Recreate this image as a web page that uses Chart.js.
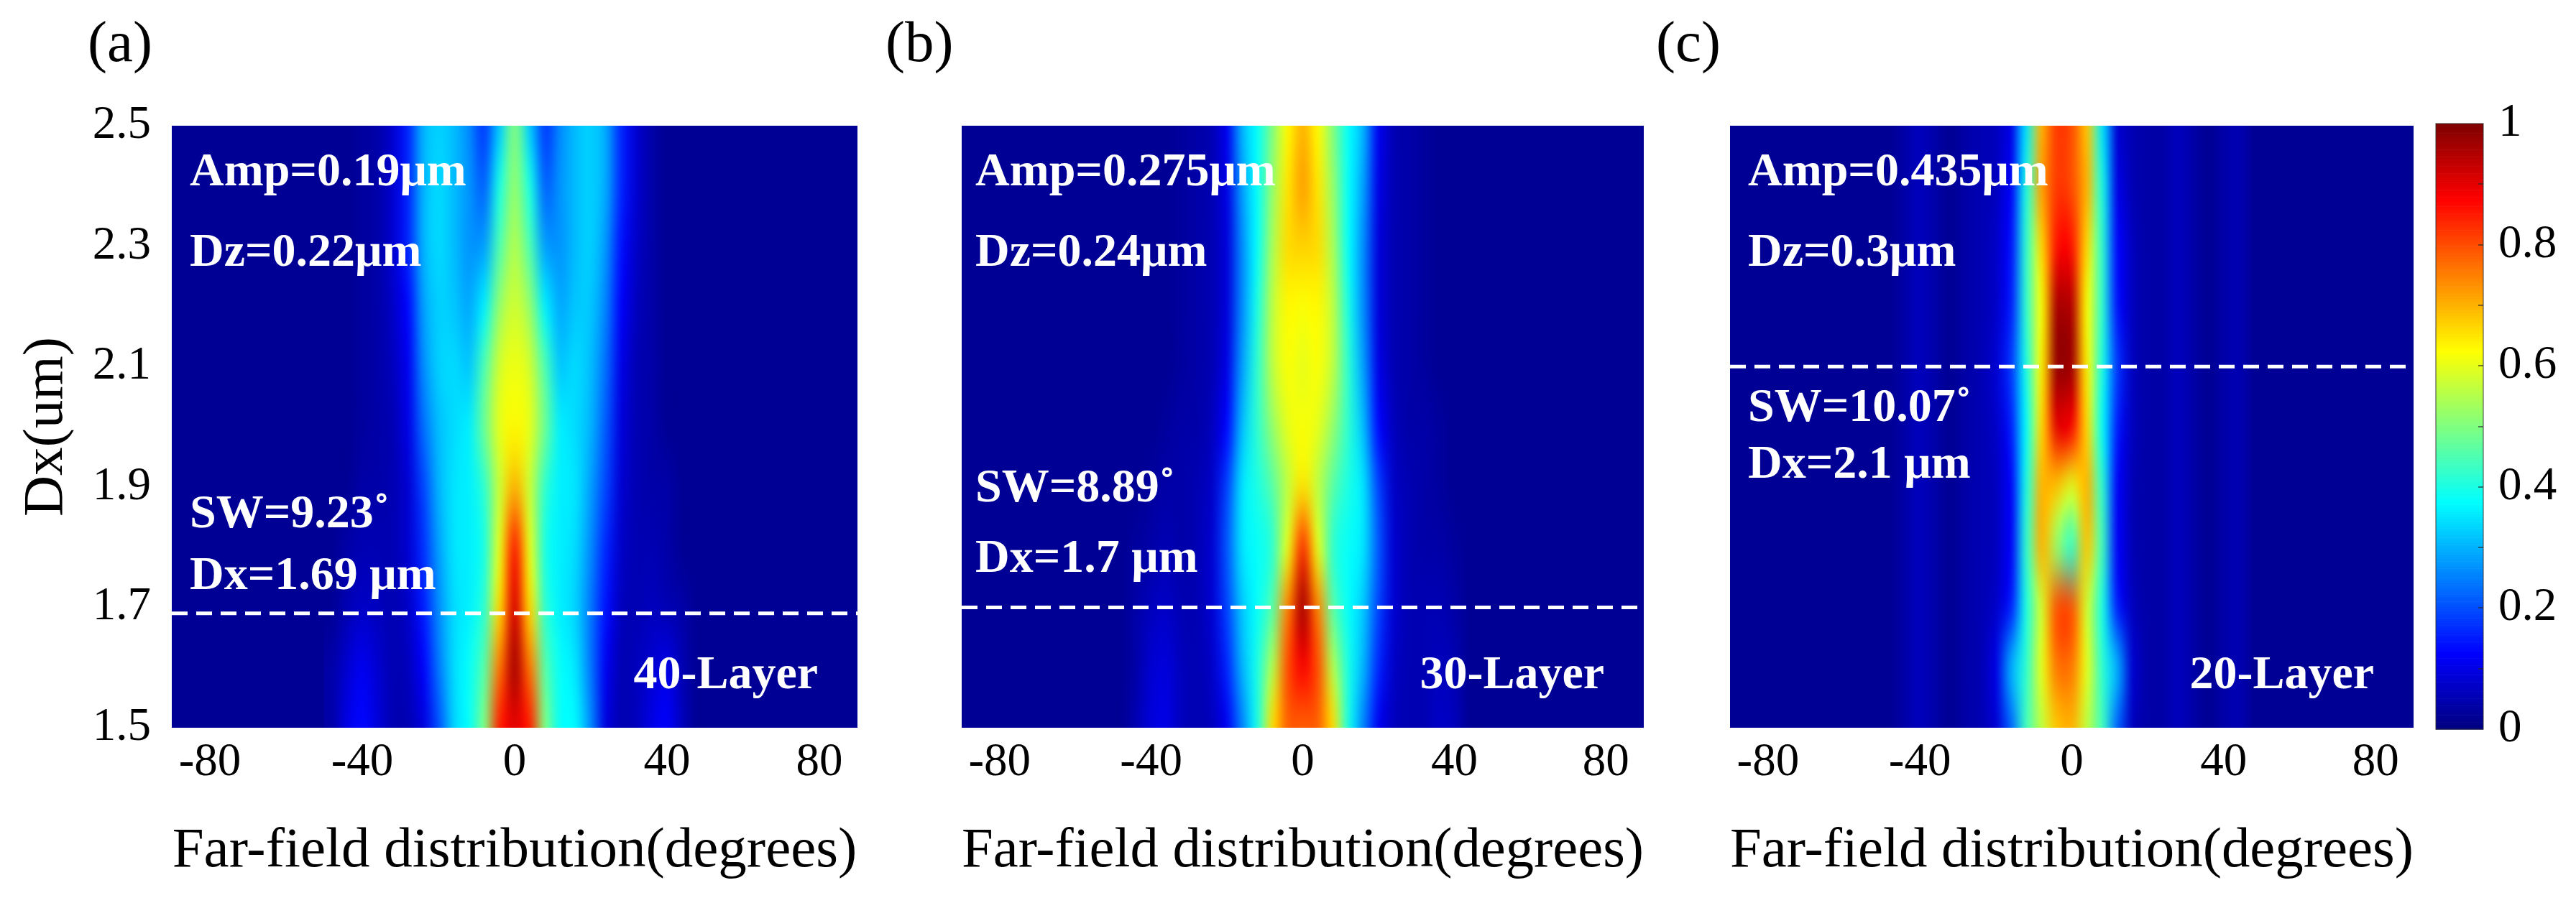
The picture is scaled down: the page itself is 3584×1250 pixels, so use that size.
<!DOCTYPE html>
<html>
<head>
<meta charset="utf-8">
<script src="https://cdn.jsdelivr.net/npm/chart.js@4.4.1/dist/chart.umd.min.js"></script>
<style>
  html, body { margin: 0; padding: 0; background: #fff; }
  #wrap { position: relative; width: 3584px; height: 1250px; overflow: hidden; }
  #wrap canvas { position: absolute; top: 0; }
</style>
</head>
<body>
<div id="wrap">
  <canvas id="panelA" style="left:0px;width:1200px;height:1250px" width="1200" height="1250"></canvas>
  <canvas id="panelB" style="left:1200px;width:1140px;height:1250px" width="1140" height="1250"></canvas>
  <canvas id="panelC" style="left:2290px;width:1100px;height:1250px" width="1100" height="1250"></canvas>
  <canvas id="cbar" style="left:3360px;width:224px;height:1250px" width="224" height="1250"></canvas>
</div>
<script>
// far-field angle (deg) of each column, Dx (um) of each row (top row first)
const angles = [-48,-44,-40,-36,-32,-28,-24,-20,-16,-12,-8,-4,0,4,8,12,16,20,24,28,32,36,40,44,48];
const dxRows = [2.5,2.4,2.3,2.2,2.1,2.0,1.9,1.8,1.7,1.6,1.5];
const floorLevel = 0.02; // intensity outside the sampled angles

// normalised intensity, 40 layers
const layer40 = [
  [.02,.02,.03,.04,.08,.16,.30,.33,.31,.26,.18,.32,.50,.32,.18,.26,.31,.33,.29,.16,.08,.04,.02,.02,.02],
  [.02,.02,.03,.04,.08,.16,.30,.34,.31,.27,.22,.40,.52,.40,.22,.27,.31,.33,.29,.16,.08,.04,.02,.02,.02],
  [.02,.02,.03,.04,.08,.16,.30,.34,.31,.27,.28,.45,.55,.45,.28,.27,.31,.33,.27,.14,.07,.04,.02,.02,.02],
  [.02,.02,.03,.04,.07,.13,.28,.33,.32,.29,.36,.52,.58,.52,.36,.29,.32,.32,.25,.12,.06,.04,.02,.02,.02],
  [.02,.02,.03,.04,.06,.11,.26,.33,.34,.32,.45,.58,.61,.58,.45,.32,.34,.31,.23,.10,.05,.04,.02,.02,.02],
  [.02,.02,.03,.04,.05,.10,.23,.31,.34,.36,.48,.60,.63,.60,.48,.36,.34,.30,.21,.09,.05,.04,.02,.02,.02],
  [.02,.02,.04,.04,.05,.08,.19,.30,.35,.36,.42,.57,.70,.57,.42,.36,.35,.28,.19,.08,.05,.04,.04,.02,.02],
  [.02,.04,.05,.05,.05,.08,.17,.28,.35,.36,.40,.60,.85,.60,.40,.36,.34,.26,.16,.07,.05,.05,.04,.02,.02],
  [.02,.05,.07,.06,.05,.07,.15,.26,.34,.36,.42,.66,.91,.66,.42,.36,.33,.24,.14,.06,.05,.06,.05,.04,.02],
  [.04,.08,.11,.08,.05,.06,.12,.24,.34,.38,.46,.76,.96,.76,.46,.38,.35,.24,.11,.05,.06,.08,.10,.05,.02],
  [.04,.10,.13,.09,.05,.05,.09,.20,.33,.38,.50,.85,.90,.85,.50,.38,.37,.26,.09,.05,.06,.10,.12,.06,.02]
];

// panel (b), 30 layers
const layer30 = [
  [.02,.02,.02,.02,.03,.04,.05,.11,.30,.38,.50,.63,.70,.63,.50,.38,.30,.11,.05,.04,.03,.02,.02,.02,.02],
  [.02,.02,.02,.02,.03,.04,.05,.10,.28,.38,.52,.65,.72,.65,.52,.38,.28,.10,.05,.04,.03,.02,.02,.02,.02],
  [.02,.02,.02,.02,.03,.04,.05,.09,.26,.38,.54,.66,.67,.66,.54,.38,.26,.09,.05,.04,.03,.02,.02,.02,.02],
  [.02,.02,.02,.02,.03,.04,.05,.09,.26,.40,.56,.63,.62,.63,.56,.40,.26,.09,.05,.04,.03,.02,.02,.02,.02],
  [.02,.02,.02,.02,.03,.04,.05,.10,.28,.42,.56,.62,.60,.62,.56,.42,.28,.10,.05,.04,.03,.02,.02,.02,.02],
  [.02,.02,.02,.03,.04,.04,.06,.13,.31,.42,.52,.60,.62,.60,.52,.42,.31,.13,.06,.04,.04,.03,.02,.02,.02],
  [.02,.02,.03,.04,.04,.05,.07,.19,.35,.40,.46,.56,.65,.56,.46,.40,.35,.19,.07,.05,.04,.03,.02,.02,.02],
  [.02,.03,.04,.05,.04,.05,.08,.21,.35,.38,.42,.60,.83,.60,.42,.38,.35,.21,.08,.05,.04,.04,.03,.02,.02],
  [.02,.04,.06,.07,.05,.05,.08,.19,.32,.38,.46,.75,.96,.75,.46,.38,.32,.19,.08,.05,.05,.05,.04,.02,.02],
  [.02,.04,.08,.09,.06,.05,.07,.16,.30,.40,.55,.80,.88,.80,.55,.40,.30,.16,.07,.05,.05,.06,.05,.02,.02],
  [.02,.05,.09,.10,.06,.05,.06,.11,.25,.40,.66,.78,.78,.78,.66,.40,.25,.11,.06,.05,.05,.07,.06,.02,.02]
];

// panel (c), 20 layers
const layer20 = [
  [.02,.04,.06,.04,.02,.04,.05,.06,.10,.35,.70,.82,.80,.68,.35,.08,.05,.04,.04,.06,.04,.02,.04,.05,.02],
  [.02,.04,.06,.04,.02,.04,.05,.06,.12,.40,.72,.82,.80,.70,.40,.10,.05,.04,.04,.06,.04,.02,.04,.05,.02],
  [.02,.04,.06,.04,.02,.04,.05,.07,.14,.42,.66,.86,.86,.66,.42,.13,.06,.04,.04,.06,.04,.02,.04,.05,.02],
  [.02,.04,.06,.04,.02,.04,.05,.07,.15,.42,.62,.96,.95,.62,.42,.14,.06,.04,.04,.06,.04,.02,.04,.05,.02],
  [.02,.04,.06,.04,.02,.04,.05,.08,.18,.40,.64,.98,.97,.64,.40,.18,.06,.04,.04,.06,.04,.02,.04,.05,.02],
  [.02,.04,.06,.04,.02,.04,.05,.07,.15,.38,.66,.90,.88,.66,.38,.15,.06,.04,.04,.06,.04,.02,.04,.05,.02],
  [.02,.04,.06,.04,.02,.04,.05,.06,.12,.40,.70,.68,.60,.70,.42,.12,.05,.04,.04,.06,.04,.02,.04,.05,.02],
  [.02,.04,.06,.04,.02,.04,.05,.06,.12,.42,.70,.52,.42,.68,.44,.12,.05,.04,.04,.06,.04,.02,.04,.05,.02],
  [.02,.04,.06,.04,.02,.04,.05,.07,.15,.40,.58,.80,.80,.58,.40,.15,.06,.04,.04,.06,.04,.02,.04,.05,.02],
  [.02,.04,.06,.04,.02,.04,.05,.10,.30,.42,.60,.76,.76,.60,.42,.30,.08,.04,.04,.06,.04,.02,.04,.05,.02],
  [.02,.04,.06,.04,.02,.04,.05,.08,.22,.44,.56,.68,.70,.56,.44,.22,.06,.04,.04,.06,.04,.02,.04,.05,.02]
];

const xTicks = [-80, -40, 0, 40, 80];
const yTicks = [1.5, 1.7, 1.9, 2.1, 2.3, 2.5];
const cbTicks = [0, 0.2, 0.4, 0.6, 0.8, 1];
const cbMarks = [0.1, 0.2, 0.3, 0.4, 0.5, 0.6, 0.7, 0.8, 0.9];

const panelLetters = ['(a)', '(b)', '(c)'];
const ampLabels = ['Amp=0.19μm', 'Amp=0.275μm', 'Amp=0.435μm'];
const dzLabels = ['Dz=0.22μm', 'Dz=0.24μm', 'Dz=0.3μm'];
const swLabels = ['SW=9.23˚', 'SW=8.89˚', 'SW=10.07˚'];
const dxLabels = ['Dx=1.69 μm', 'Dx=1.7 μm', 'Dx=2.1 μm'];
const dxMarks = [1.69, 1.7, 2.1];
const layerLabels = ['40-Layer', '30-Layer', '20-Layer'];

const FONT = "'Liberation Serif', 'DejaVu Serif', serif";
Chart.defaults.color = '#000';
Chart.defaults.font.family = FONT;

// pick font sizes so that a sample string gets the width it has in the figure
const probe = document.createElement('canvas').getContext('2d');
function fitSize(weight, text, width) {
  probe.font = `${weight} 100px ${FONT}`;
  return Math.round(100 * width / probe.measureText(text).width);
}
const noteSize = fitSize('bold', 'Amp=0.19μm', 386);
const tickSize = fitSize('normal', '-80', 86);
const titleSize = fitSize('normal', 'Far-field distribution(degrees)', 955);
const letterSize = fitSize('normal', '(b)', 94);

function jet(v) {
  const c = t => Math.round(255 * Math.max(0, Math.min(1, t)));
  return [c(1.5 - Math.abs(4 * v - 3)), c(1.5 - Math.abs(4 * v - 2)), c(1.5 - Math.abs(4 * v - 1))];
}

// paints the intensity grid of the 'grid' dataset into the chart area
const heatmap = {
  id: 'heatmap',
  beforeDatasetsDraw(chart) {
    const ds = chart.data.datasets.find(d => d.grid);
    if (!ds) return;
    const { ctx, chartArea: a, scales: { x, y } } = chart;
    const nc = angles.length, nr = dxRows.length;
    const off = document.createElement('canvas');
    off.width = nc; off.height = nr;
    const octx = off.getContext('2d');
    const img = octx.createImageData(nc, nr);
    ds.data.forEach(p => {
      const i = (dxRows.indexOf(p.y) * nc + angles.indexOf(p.x)) * 4;
      const [r, g, b] = jet(p.v);
      img.data[i] = r; img.data[i + 1] = g; img.data[i + 2] = b; img.data[i + 3] = 255;
    });
    octx.putImageData(img, 0, 0);

    const sx = angles[1] - angles[0], sy = dxRows[0] - dxRows[1];
    const x0 = x.getPixelForValue(angles[0] - sx / 2), x1 = x.getPixelForValue(angles[nc - 1] + sx / 2);
    const y0 = y.getPixelForValue(dxRows[0] + sy / 2), y1 = y.getPixelForValue(dxRows[nr - 1] - sy / 2);

    ctx.save();
    ctx.beginPath();
    ctx.rect(a.left, a.top, a.right - a.left, a.bottom - a.top);
    ctx.clip();
    const [r, g, b] = jet(floorLevel);
    ctx.fillStyle = `rgb(${r},${g},${b})`;
    ctx.fillRect(a.left, a.top, a.right - a.left, a.bottom - a.top);
    ctx.imageSmoothingEnabled = true;
    ctx.imageSmoothingQuality = 'high';
    ctx.drawImage(off, x0, y0, x1 - x0, y1 - y0);
    ctx.restore();
  }
};

// white labels inside the map and the panel letter above it
const notes = {
  id: 'notes',
  afterDatasetsDraw(chart, args, o) {
    const { ctx, chartArea: a } = chart;
    const k = o.index;
    ctx.save();
    ctx.fillStyle = '#fff';
    ctx.font = `bold ${noteSize}px ${FONT}`;
    ctx.textBaseline = 'alphabetic';
    ctx.textAlign = 'left';
    ctx.fillText(ampLabels[k], a.left + o.inset, a.top + 83);
    ctx.fillText(dzLabels[k], a.left + o.inset, a.top + 195);
    ctx.fillText(swLabels[k], a.left + o.inset, a.top + o.swY);
    ctx.fillText(dxLabels[k], a.left + o.inset, a.top + o.dxY);
    ctx.textAlign = 'right';
    ctx.fillText(layerLabels[k], a.right - 55, a.bottom - 55);
    ctx.fillStyle = '#000';
    ctx.font = `${letterSize}px ${FONT}`;
    ctx.textAlign = 'left';
    ctx.textBaseline = 'middle';
    ctx.fillText(panelLetters[k], a.left - o.letterGap, 64);
    ctx.restore();
  }
};

function makePanel(id, k, values, pad, showY, noteOpts) {
  const cells = [];
  dxRows.forEach((d, r) => angles.forEach((ang, c) => cells.push({ x: ang, y: d, v: values[r][c] })));
  return new Chart(document.getElementById(id), {
    type: 'scatter',
    data: {
      datasets: [
        { grid: true, data: cells, pointRadius: 0 },
        {
          type: 'line',
          data: [{ x: -90, y: dxMarks[k] }, { x: 90, y: dxMarks[k] }],
          borderColor: '#fff', borderWidth: 5, borderDash: [22, 12],
          pointRadius: 0, fill: false
        }
      ]
    },
    options: {
      responsive: false,
      animation: false,
      events: [],
      devicePixelRatio: 1,
      layout: { padding: pad },
      plugins: { legend: { display: false }, tooltip: { enabled: false }, notes: noteOpts },
      scales: {
        x: {
          type: 'linear', min: -90, max: 90,
          grid: { display: false, drawTicks: false },
          border: { display: false },
          afterBuildTicks: s => { s.ticks = xTicks.map(v => ({ value: v })); },
          afterFit: s => { s.height = 237; },
          ticks: { font: { size: tickSize }, padding: 10, maxRotation: 0, autoSkip: false },
          title: {
            display: true, text: 'Far-field distribution(degrees)',
            font: { size: titleSize }, padding: { top: 0, bottom: 17 }
          }
        },
        y: {
          type: 'linear', min: 1.5, max: 2.5, display: showY,
          grid: { display: false, drawTicks: false },
          border: { display: false },
          afterBuildTicks: s => { s.ticks = yTicks.map(v => ({ value: v })); },
          afterFit: s => { s.width = showY ? 239 : 0; },
          ticks: { font: { size: tickSize }, padding: 29, callback: v => v.toFixed(1) },
          title: { display: true, text: 'Dx(um)', font: { size: titleSize }, padding: { top: 18, bottom: 0 } }
        }
      }
    },
    plugins: [heatmap, notes]
  });
}

makePanel('panelA', 0, layer40, { top: 175, left: 0, right: 7, bottom: 0 }, true,
  { index: 0, inset: 25, swY: 559, dxY: 645, letterGap: 117 });
makePanel('panelB', 1, layer30, { top: 175, left: 138, right: 53, bottom: 0 }, false,
  { index: 1, inset: 19, swY: 523, dxY: 621, letterGap: 106 });
makePanel('panelC', 2, layer20, { top: 175, left: 117, right: 32, bottom: 0 }, false,
  { index: 2, inset: 25, swY: 411, dxY: 490, letterGap: 103 });

// colour bar: jet ramp, thin frame and short inner ticks on the right edge
const colorbar = {
  id: 'colorbar',
  beforeDatasetsDraw(chart) {
    const { ctx, chartArea: a, scales: { y } } = chart;
    const steps = 256;
    ctx.save();
    for (let i = 0; i < steps; i++) {
      const lo = i / steps, hi = (i + 1) / steps;
      const [r, g, b] = jet((lo + hi) / 2);
      const top = y.getPixelForValue(hi), bot = y.getPixelForValue(lo);
      ctx.fillStyle = `rgb(${r},${g},${b})`;
      ctx.fillRect(a.left, top, a.right - a.left, bot - top + 0.6);
    }
    ctx.strokeStyle = 'rgba(40,40,40,0.6)';
    ctx.lineWidth = 1.5;
    ctx.strokeRect(a.left, a.top, a.right - a.left, a.bottom - a.top);
    ctx.lineWidth = 2;
    cbMarks.forEach(v => {
      const py = Math.round(y.getPixelForValue(v));
      ctx.beginPath();
      ctx.moveTo(a.right - 7, py);
      ctx.lineTo(a.right, py);
      ctx.stroke();
    });
    ctx.restore();
  }
};

new Chart(document.getElementById('cbar'), {
  type: 'scatter',
  data: { datasets: [{ data: [] }] },
  options: {
    responsive: false,
    animation: false,
    events: [],
    devicePixelRatio: 1,
    layout: { padding: { top: 172, left: 29, right: 0, bottom: 235 } },
    plugins: { legend: { display: false }, tooltip: { enabled: false } },
    scales: {
      x: { type: 'linear', min: 0, max: 1, display: false },
      y: {
        type: 'linear', position: 'right', min: 0, max: 1,
        grid: { display: false, drawTicks: false },
        border: { display: false },
        afterBuildTicks: s => { s.ticks = cbTicks.map(v => ({ value: v })); },
        afterFit: s => { s.width = 129; },
        ticks: { font: { size: tickSize }, padding: 21, callback: v => String(v) }
      }
    }
  },
  plugins: [colorbar]
});
</script>
</body>
</html>
